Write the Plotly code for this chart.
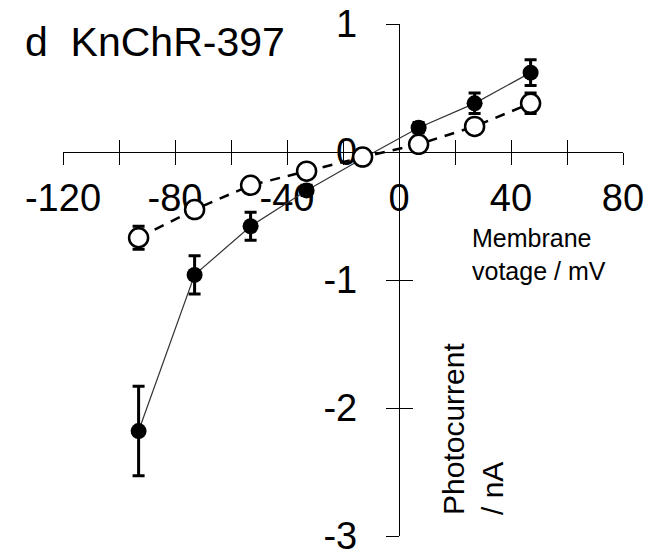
import plotly.graph_objects as go

# Data
voltage = [-93, -73, -53, -33, -13, 7, 27, 47]
filled_current = [-2.18, -0.96, -0.58, -0.30, -0.05, 0.19, 0.38, 0.62]
filled_err = [0.35, 0.15, 0.11, 0.04, 0.03, 0.04, 0.08, 0.10]
open_current = [-0.67, -0.45, -0.26, -0.15, -0.04, 0.06, 0.20, 0.38]
open_err = [0.09, 0.04, 0.03, 0.03, 0.03, 0.03, 0.04, 0.08]

x_tickvals = [-120, -100, -80, -60, -40, -20, 0, 20, 40, 60, 80]
x_ticktext = ["-120", "", "-80", "", "-40", "", "0", "", "40", "", "80"]
y_tickvals = [-3, -2, -1, 0, 1]
y_ticktext = ["-3", "-2", "-1", "0", "1"]

FONT = "Arial, Liberation Sans, sans-serif"

fig = go.Figure()

fig.add_trace(go.Scatter(
    x=voltage, y=filled_current, mode="lines+markers",
    line=dict(color="#333333", width=1.2),
    marker=dict(symbol="circle", size=16, color="black", line=dict(width=0)),
    error_y=dict(type="data", array=filled_err, color="black", thickness=3, width=6),
    showlegend=False, hoverinfo="skip",
))

fig.add_trace(go.Scatter(
    x=voltage, y=open_current, mode="lines+markers",
    line=dict(color="black", width=2.5, dash="10px,8px"),
    marker=dict(symbol="circle", size=19, color="white", line=dict(color="black", width=2.5)),
    error_y=dict(type="data", array=open_err, color="black", thickness=3, width=6),
    showlegend=False, hoverinfo="skip",
))

# dummy trace to realise the overlaying axes that carry the inner half of the ticks
fig.add_trace(go.Scatter(x=[None], y=[None], xaxis="x2", yaxis="y2",
                         showlegend=False, hoverinfo="skip"))

common_x = dict(range=[-120, 80], domain=[0, 1], anchor="free", position=0.75,
                showgrid=False, zeroline=False, tickvals=x_tickvals, automargin=False,
                ticklen=12, tickwidth=1.3, tickcolor="black", layer="below traces")
common_y = dict(range=[-3, 1], domain=[0, 1], anchor="free", position=0.6,
                showgrid=False, zeroline=False, tickvals=y_tickvals, automargin=False,
                ticklen=13, tickwidth=1.3, tickcolor="black", layer="below traces")

fig.update_layout(
    width=660, height=552,
    margin=dict(l=63, r=37, t=24, b=16),
    paper_bgcolor="white", plot_bgcolor="white",
    font=dict(family=FONT, color="black"),
    xaxis=dict(**common_x, ticks="outside", showline=True, linecolor="black", linewidth=1.3,
               ticktext=x_ticktext, tickfont=dict(size=38, family=FONT, color="black"),
               ticklabelstandoff=0, ticklabeloverflow="allow"),
    yaxis=dict(**common_y, ticks="outside", showline=True, linecolor="black", linewidth=1.3,
               ticktext=y_ticktext, tickfont=dict(size=38, family=FONT, color="black"),
               ticklabelstandoff=21, ticklabeloverflow="allow"),
    xaxis2=dict(**common_x, overlaying="x", ticks="inside", showline=False,
                showticklabels=False),
    yaxis2=dict(**common_y, overlaying="y", ticks="inside", showline=False,
                showticklabels=False),
    title=dict(text="d  KnChR-397", x=25/660, xanchor="left", xref="container",
               y=1 - 42/552, yanchor="middle", yref="container",
               font=dict(size=41, family=FONT, color="black")),
    annotations=[
        dict(text="Membrane<br>votage / mV", xref="paper", yref="paper",
             x=(470 - 63) / 560, y=(536 - 222) / 512, xanchor="left", yanchor="top",
             align="left", showarrow=False,
             font=dict(size=25, family=FONT, color="black")),
        dict(text="Photocurrent<br>/ nA", xref="paper", yref="paper", textangle=-90,
             x=(473 - 63) / 560, y=(536 - 429) / 512, xanchor="center", yanchor="middle",
             align="left", showarrow=False,
             font=dict(size=30, family=FONT, color="black")),
    ],
)

fig.write_html("out.html")
